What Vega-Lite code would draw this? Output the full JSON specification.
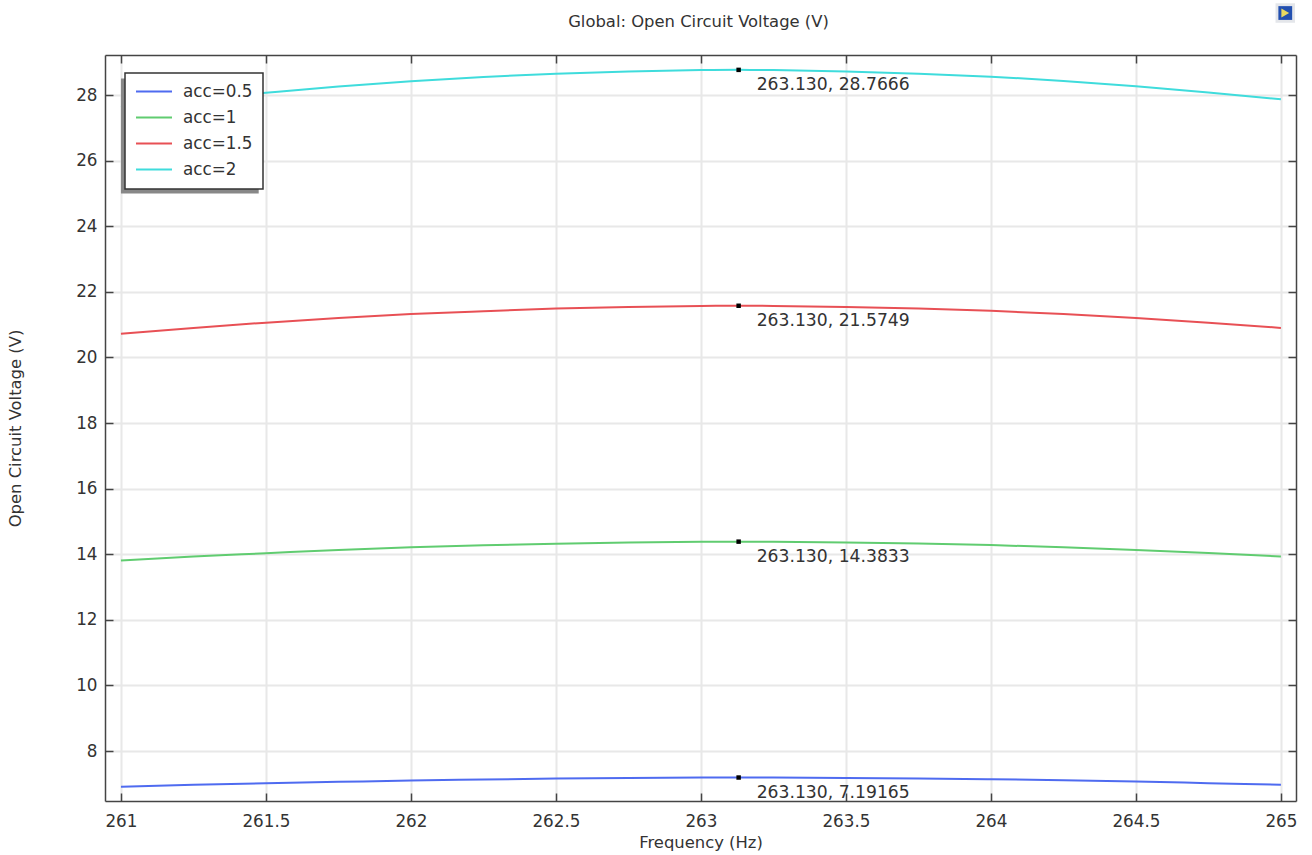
{
"$schema":"https://vega.github.io/schema/vega-lite/v6.json",
"width":1191,"height":746,
"autosize":{"type":"none"},
"padding":{"left":105,"top":55,"right":16,"bottom":54},
"background":"white",
"config":{"font":"DejaVu Sans","view":{"stroke":null}},
"title":{"text":"Global: Open Circuit Voltage (V)","font":"DejaVu Sans","fontSize":16.4,"fontWeight":"normal","color":"#333333","anchor":"middle","offset":-27,"dx":-2},
"datasets":{
"curves":[
{"f":261,"v":6.91,"s":"acc=0.5"},{"f":261.25,"v":6.97,"s":"acc=0.5"},{"f":261.5,"v":7.02,"s":"acc=0.5"},{"f":261.75,"v":7.06,"s":"acc=0.5"},{"f":262,"v":7.1,"s":"acc=0.5"},{"f":262.25,"v":7.13,"s":"acc=0.5"},{"f":262.5,"v":7.16,"s":"acc=0.5"},{"f":262.75,"v":7.18,"s":"acc=0.5"},{"f":263,"v":7.19,"s":"acc=0.5"},{"f":263.13,"v":7.19165,"s":"acc=0.5"},{"f":263.25,"v":7.19,"s":"acc=0.5"},{"f":263.5,"v":7.18,"s":"acc=0.5"},{"f":263.75,"v":7.165,"s":"acc=0.5"},{"f":264,"v":7.14,"s":"acc=0.5"},{"f":264.25,"v":7.11,"s":"acc=0.5"},{"f":264.5,"v":7.07,"s":"acc=0.5"},{"f":264.75,"v":7.02,"s":"acc=0.5"},{"f":265,"v":6.97,"s":"acc=0.5"},
{"f":261,"v":13.81,"s":"acc=1"},{"f":261.25,"v":13.93,"s":"acc=1"},{"f":261.5,"v":14.03,"s":"acc=1"},{"f":261.75,"v":14.13,"s":"acc=1"},{"f":262,"v":14.21,"s":"acc=1"},{"f":262.25,"v":14.27,"s":"acc=1"},{"f":262.5,"v":14.32,"s":"acc=1"},{"f":262.75,"v":14.36,"s":"acc=1"},{"f":263,"v":14.38,"s":"acc=1"},{"f":263.13,"v":14.3833,"s":"acc=1"},{"f":263.25,"v":14.38,"s":"acc=1"},{"f":263.5,"v":14.36,"s":"acc=1"},{"f":263.75,"v":14.33,"s":"acc=1"},{"f":264,"v":14.28,"s":"acc=1"},{"f":264.25,"v":14.21,"s":"acc=1"},{"f":264.5,"v":14.13,"s":"acc=1"},{"f":264.75,"v":14.04,"s":"acc=1"},{"f":265,"v":13.93,"s":"acc=1"},
{"f":261,"v":20.72,"s":"acc=1.5"},{"f":261.25,"v":20.9,"s":"acc=1.5"},{"f":261.5,"v":21.06,"s":"acc=1.5"},{"f":261.75,"v":21.2,"s":"acc=1.5"},{"f":262,"v":21.32,"s":"acc=1.5"},{"f":262.25,"v":21.41,"s":"acc=1.5"},{"f":262.5,"v":21.49,"s":"acc=1.5"},{"f":262.75,"v":21.54,"s":"acc=1.5"},{"f":263,"v":21.57,"s":"acc=1.5"},{"f":263.13,"v":21.5749,"s":"acc=1.5"},{"f":263.25,"v":21.57,"s":"acc=1.5"},{"f":263.5,"v":21.54,"s":"acc=1.5"},{"f":263.75,"v":21.49,"s":"acc=1.5"},{"f":264,"v":21.42,"s":"acc=1.5"},{"f":264.25,"v":21.32,"s":"acc=1.5"},{"f":264.5,"v":21.2,"s":"acc=1.5"},{"f":264.75,"v":21.06,"s":"acc=1.5"},{"f":265,"v":20.9,"s":"acc=1.5"},
{"f":261,"v":27.63,"s":"acc=2"},{"f":261.25,"v":27.87,"s":"acc=2"},{"f":261.5,"v":28.07,"s":"acc=2"},{"f":261.75,"v":28.26,"s":"acc=2"},{"f":262,"v":28.42,"s":"acc=2"},{"f":262.25,"v":28.55,"s":"acc=2"},{"f":262.5,"v":28.65,"s":"acc=2"},{"f":262.75,"v":28.72,"s":"acc=2"},{"f":263,"v":28.76,"s":"acc=2"},{"f":263.13,"v":28.7666,"s":"acc=2"},{"f":263.25,"v":28.76,"s":"acc=2"},{"f":263.5,"v":28.72,"s":"acc=2"},{"f":263.75,"v":28.65,"s":"acc=2"},{"f":264,"v":28.56,"s":"acc=2"},{"f":264.25,"v":28.43,"s":"acc=2"},{"f":264.5,"v":28.27,"s":"acc=2"},{"f":264.75,"v":28.08,"s":"acc=2"},{"f":265,"v":27.87,"s":"acc=2"}
],
"peaks":[
{"f":263.13,"v":7.19165,"label":"263.130, 7.19165"},
{"f":263.13,"v":14.3833,"label":"263.130, 14.3833"},
{"f":263.13,"v":21.5749,"label":"263.130, 21.5749"},
{"f":263.13,"v":28.7666,"label":"263.130, 28.7666"}
],
"shadow":[{"f1":261.0,"f2":261.475,"v1":25.0,"v2":28.5}],
"icon":[{"f":265.015,"v":30.5}]
},
"resolve":{"axis":{"x":"independent","y":"independent"}},
"layer":[
{"data":{"name":"curves"},"mark":{"type":"line","strokeWidth":2,"clip":true,"interpolate":"monotone"},
"encoding":{
"x":{"field":"f","type":"quantitative","scale":{"domain":[260.945,265.052],"nice":false,"zero":false},
"axis":{"orient":"bottom","values":[261,261.5,262,262.5,263,263.5,264,264.5,265],"title":"Frequency (Hz)","titleFont":"DejaVu Sans","titleFontSize":16.4,"titleFontWeight":"normal","titleColor":"#333333","titlePadding":5,"labelFont":"DejaVu Sans","labelFontSize":16.8,"labelColor":"#333333","labelPadding":20,"tickSize":-8,"tickColor":"#444444","tickWidth":1.5,"domainColor":"#444444","domainWidth":1.5,"grid":true,"gridColor":"#e8e8e8","gridWidth":2,"labelFlush":false,"format":"~r"}},
"y":{"field":"v","type":"quantitative","scale":{"domain":[6.476,29.22],"nice":false,"zero":false},
"axis":{"orient":"left","values":[8,10,12,14,16,18,20,22,24,26,28],"title":"Open Circuit Voltage (V)","titleFont":"DejaVu Sans","titleFontSize":16.4,"titleFontWeight":"normal","titleColor":"#333333","titlePadding":52,"labelFont":"DejaVu Sans","labelFontSize":16.8,"labelColor":"#333333","labelPadding":16,"tickSize":-8,"tickColor":"#444444","tickWidth":1.5,"domainColor":"#444444","domainWidth":1.5,"grid":true,"gridColor":"#e8e8e8","gridWidth":2}},
"color":{"field":"s","type":"nominal","scale":{"domain":["acc=0.5","acc=1","acc=1.5","acc=2"],"range":["#4f6bf0","#60cc70","#e85055","#3fdcdc"]},
"legend":{"title":null,"orient":"none","legendX":20,"legendY":18,"fillColor":"white","strokeColor":"#333333","padding":10,"symbolType":"stroke","symbolSize":1296,"symbolStrokeWidth":2,"clipHeight":17,"labelFont":"DejaVu Sans","labelFontSize":16.8,"labelColor":"#333333","labelOffset":10,"rowPadding":8,"cornerRadius":0,"encode":{"legend":{"update":{"strokeWidth":{"value":1.5}}}}}}
}},
{"data":{"name":"shadow"},"mark":{"type":"rect","color":"#888888"},
"encoding":{"x":{"field":"f1","type":"quantitative","axis":null},"x2":{"field":"f2"},"y":{"field":"v1","type":"quantitative","axis":null},"y2":{"field":"v2"}}},
{"data":{"name":"peaks"},"mark":{"type":"point","shape":"square","filled":true,"color":"black","size":20,"opacity":1},
"encoding":{
"x":{"field":"f","type":"quantitative","axis":{"orient":"top","values":[261,261.5,262,262.5,263,263.5,264,264.5,265],"labels":false,"title":null,"tickSize":-8,"tickColor":"#444444","tickWidth":1.5,"domainColor":"#444444","domainWidth":1.5,"grid":false}},
"y":{"field":"v","type":"quantitative","axis":{"orient":"right","values":[8,10,12,14,16,18,20,22,24,26,28],"labels":false,"title":null,"tickSize":-8,"tickColor":"#444444","tickWidth":1.5,"domainColor":"#444444","domainWidth":1.5,"grid":false}}
}},
{"data":{"name":"peaks"},"mark":{"type":"text","align":"left","baseline":"middle","dx":18,"dy":15,"font":"DejaVu Sans","fontSize":17.2,"color":"#333333"},
"encoding":{"x":{"field":"f","type":"quantitative","axis":null},"y":{"field":"v","type":"quantitative","axis":null},"text":{"field":"label"}}},
{"data":{"name":"icon"},"mark":{"type":"point","shape":"square","filled":true,"color":"#e4e6ea","size":380,"opacity":1},
"encoding":{"x":{"field":"f","type":"quantitative","axis":null},"y":{"field":"v","type":"quantitative","axis":null}}},
{"data":{"name":"icon"},"mark":{"type":"point","shape":"square","filled":true,"color":"#2350b0","size":190,"opacity":1},
"encoding":{"x":{"field":"f","type":"quantitative","axis":null},"y":{"field":"v","type":"quantitative","axis":null}}},
{"data":{"name":"icon"},"mark":{"type":"point","shape":"triangle-right","filled":true,"color":"#e8d860","size":80,"opacity":1},
"encoding":{"x":{"field":"f","type":"quantitative","axis":null},"y":{"field":"v","type":"quantitative","axis":null}}}
]
}
